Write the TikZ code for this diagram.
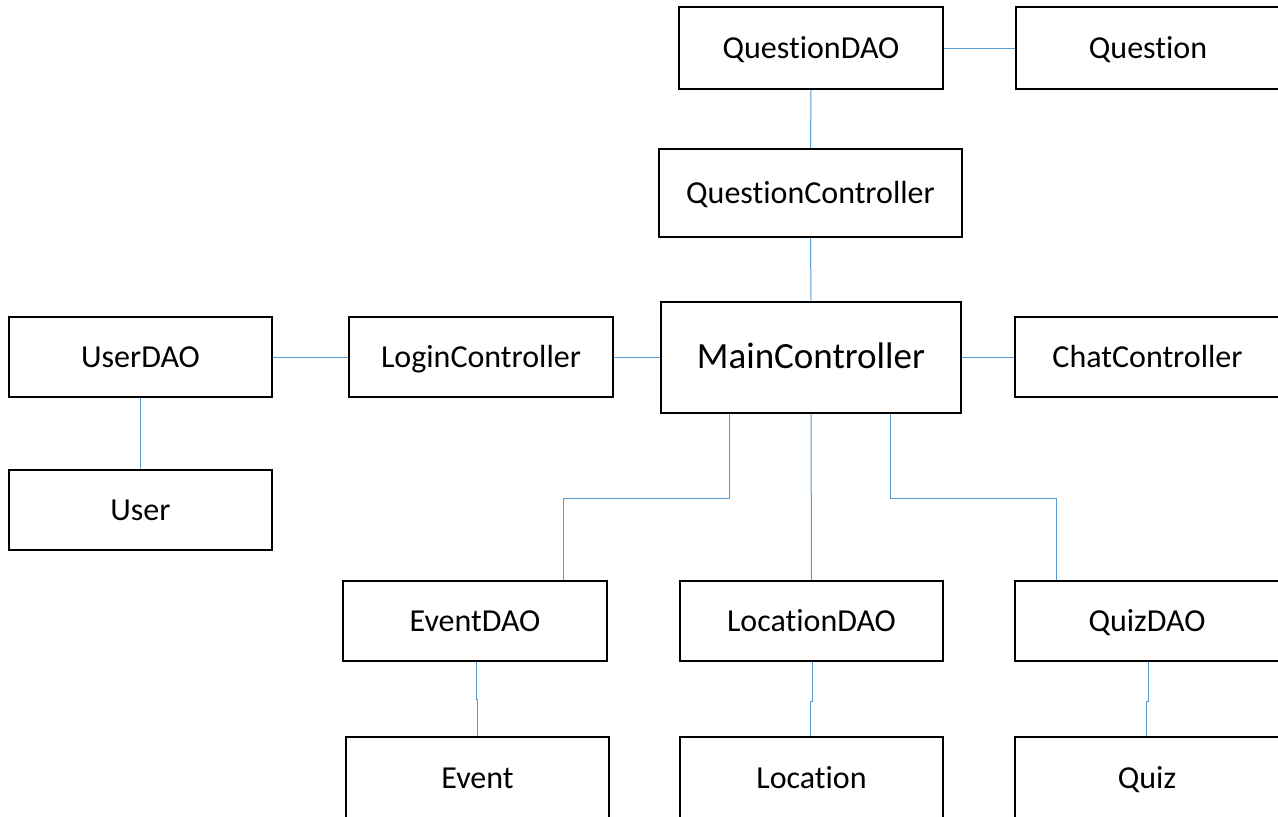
\documentclass[tikz,border=0pt]{standalone}
\usepackage{fontspec}
\setmainfont{Carlito}[Ligatures=NoCommon]
\definecolor{linkblue}{RGB}{91,155,213}
\begin{document}
\begin{tikzpicture}[x=1pt,y=-1pt,
  box/.style={draw=black,line width=2pt,fill=white,rectangle,inner sep=0pt,
    minimum width=264pt,minimum height=80pt,font=\fontsize{32}{38}\selectfont,
    text height=20.6pt,text depth=0pt},
  bigbox/.style={box,font=\fontsize{37}{44}\selectfont,text height=23.8pt},
  link/.style={draw=linkblue,line width=1pt}]
\clip (0,0) rectangle (1278,817);
\fill[white] (0,0) rectangle (1278,817);
% top column
\node[box,minimum height=82pt] (qdao) at (811,48) {QuestionDAO};
\node[box,minimum height=82pt] (question) at (1148,48) {Question};
\node[box,minimum width=303pt,minimum height=88pt] (qc) at (810.5,193) {QuestionController};
% middle row
\node[box,minimum width=263pt] (userdao) at (140.5,357) {UserDAO};
\node[box] (login) at (481,357) {LoginController};
\node[bigbox,minimum width=300pt,minimum height=111pt] (main) at (811,357) {MainController};
\node[box,minimum width=265pt] (chat) at (1147.5,357) {ChatController};
\node[box,minimum width=263pt] (user) at (140.5,510) {User};
% data access row
\node[box] (edao) at (475,621) {EventDAO};
\node[box,minimum width=263pt] (ldao) at (811.5,621) {LocationDAO};
\node[box] (qzdao) at (1147,621) {QuizDAO};
% entity row
\node[box,minimum width=263pt,minimum height=82pt] (event) at (477.5,778) {Event};
\node[box,minimum width=263pt,minimum height=82pt] (loc) at (811.5,778) {Location};
\node[box,minimum height=82pt] (quiz) at (1147,778) {Quiz};
% connectors
\draw[link] (qdao) -- (question);
\draw[link] (qdao.south) -- (qc.north);
\draw[link] (qc.south) -- (main.north);
\draw[link] (userdao) -- (login);
\draw[link] (login) -- (main);
\draw[link] (main) -- (chat);
\draw[link] (userdao.south) -- (user.north);
\draw[link] ([xshift=-81.5pt]main.south) -- ++(0,85) -| ([xshift=88pt]edao.north);
\draw[link] (main.south) -- (ldao.north);
\draw[link] ([xshift=79pt]main.south) -- ++(0,85) -| ([xshift=-91pt]qzdao.north);
\draw[link] ([xshift=1pt]edao.south) -- ++(0,37) -| (event.north);
\draw[link] ([xshift=1pt]ldao.south) -- ++(0,39) -| ([xshift=-1pt]loc.north);
\draw[link] ([xshift=1pt]qzdao.south) -- ++(0,39) -| ([xshift=-1pt]quiz.north);
\end{tikzpicture}
\end{document}
